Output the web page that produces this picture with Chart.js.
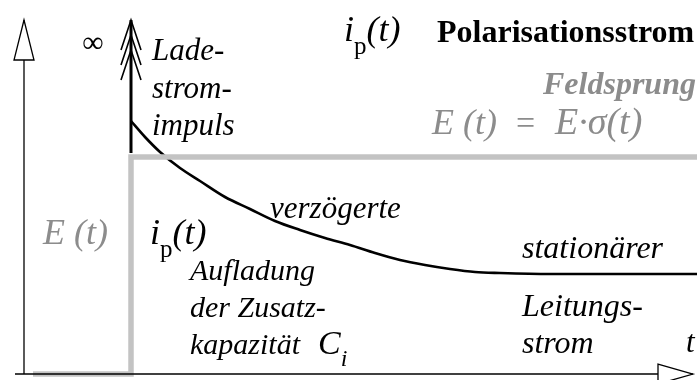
<!DOCTYPE html>
<html>
<head>
<meta charset="utf-8">
<script src="https://cdn.jsdelivr.net/npm/chart.js@4/dist/chart.umd.min.js"></script>
<style>
  html, body { margin: 0; padding: 0; background: #fff; }
  #wrap { width: 697px; height: 380px; position: relative; }
</style>
</head>
<body>
<div id="wrap"><canvas id="polChart"></canvas></div>
<script>
// Feldsprung E(t) = E·sigma(t), t = 0 at the step
const stepT = [-98, 0, 0, 566];
const stepE = [0, 0, 217, 217];

// Polarisationsstrom i_p(t) after the charging impulse
const currentT = [0, 14, 29, 49, 69, 94, 119, 144, 169, 194, 219, 244, 269, 294, 319, 344, 369, 419, 566];
const currentI = [253, 237, 222, 206, 193, 177, 165, 153, 144, 136, 129, 121, 114, 109, 105, 102, 101, 100, 100];

// Dirac impulse at t = 0 (drawn to "infinity")
const impulseT = [0, 0];
const impulseI = [221, 354];
const impulseTips = [354, 339, 324];

// coordinate axes
const axisYT = [-107, -107];
const axisYV = [0, 354];
const axisXT = [-116, 562];
const axisXV = [0, 0];

const pts = (xs, ys) => xs.map((x, i) => ({ x: x, y: ys[i] }));

const serif = "'Liberation Serif', 'Times New Roman', serif";
const GRAY = '#8c8c8c';
const it = size => 'italic ' + size + 'px ' + serif;

// text labels in data coordinates
const labels = [
  { t: -38, v: 322, text: '\u221E', font: '30px ' + serif, align: 'center' },
  { t: 21, v: 314, text: 'Lade-', font: it(31) },
  { t: 21, v: 276, text: 'strom-', font: it(31) },
  { t: 21, v: 239, text: 'impuls', font: it(31) },
  { t: 306, v: 332, text: 'Polarisationsstrom', font: 'bold 32px ' + serif },
  { t: 412, v: 280, text: 'Feldsprung', font: 'bold italic 32px ' + serif, color: GRAY },
  { t: 301, v: 240, text: 'E (t)', font: it(36), color: GRAY },
  { t: 385, v: 240, text: '=', font: '34px ' + serif, color: GRAY },
  { t: 424, v: 240, text: 'E\u00B7\u03C3(t)', font: it(38), color: GRAY },
  { t: -88, v: 130, text: 'E (t)', font: it(36), color: GRAY },
  { t: 139, v: 156, text: 'verzögerte', font: it(31) },
  { t: 59, v: 94, text: 'Aufladung', font: it(30) },
  { t: 59, v: 57, text: 'der Zusatz-', font: it(30) },
  { t: 59, v: 20, text: 'kapazität', font: it(30) },
  { t: 391, v: 116, text: 'stationärer', font: it(32) },
  { t: 391, v: 58, text: 'Leitungs-', font: it(32) },
  { t: 391, v: 21, text: 'strom', font: it(32) },
  { t: 555, v: 22, text: 't', font: it(31) }
];

// labels with a subscript: main part, subscript, rest
const subLabels = [
  { t: 213, v: 333, main: 'i', sub: 'p', rest: '(t)', size: 36 },
  { t: 19, v: 130, main: 'i', sub: 'p', rest: '(t)', size: 36 },
  { t: 187, v: 20, main: 'C', sub: 'i', rest: '', size: 34 }
];

const annotate = {
  id: 'annotate',
  afterDatasetsDraw(chart) {
    const ctx = chart.ctx;
    const xs = chart.scales.x, ys = chart.scales.y;
    ctx.save();

    // open arrow heads on the axes
    ctx.strokeStyle = '#000';
    ctx.lineWidth = 1.3;
    ctx.fillStyle = '#fff';
    let ax = xs.getPixelForValue(axisYT[1]), ay = ys.getPixelForValue(axisYV[1]);
    ctx.beginPath();
    ctx.moveTo(ax, ay);
    ctx.lineTo(ax - 10, ay + 40);
    ctx.lineTo(ax + 10, ay + 40);
    ctx.closePath();
    ctx.fill();
    ctx.stroke();
    ax = xs.getPixelForValue(axisXT[1]); ay = ys.getPixelForValue(axisXV[1]);
    ctx.beginPath();
    ctx.moveTo(ax, ay);
    ctx.lineTo(ax - 35, ay - 10);
    ctx.lineTo(ax - 35, ay + 10);
    ctx.closePath();
    ctx.fill();
    ctx.stroke();

    // stacked chevrons marking the infinite impulse
    const ix = xs.getPixelForValue(impulseT[0]);
    ctx.lineWidth = 1.6;
    impulseTips.forEach(v => {
      const iy = ys.getPixelForValue(v);
      ctx.beginPath();
      ctx.moveTo(ix - 10, iy + 30);
      ctx.lineTo(ix, iy);
      ctx.lineTo(ix + 10, iy + 30);
      ctx.stroke();
    });

    // text
    ctx.textBaseline = 'alphabetic';
    labels.forEach(l => {
      ctx.font = l.font;
      ctx.fillStyle = l.color || '#000';
      ctx.textAlign = l.align || 'left';
      ctx.fillText(l.text, xs.getPixelForValue(l.t), ys.getPixelForValue(l.v));
    });
    ctx.textAlign = 'left';
    ctx.fillStyle = '#000';
    subLabels.forEach(l => {
      let x = xs.getPixelForValue(l.t);
      const y = ys.getPixelForValue(l.v);
      ctx.font = it(l.size);
      ctx.fillText(l.main, x, y);
      x += ctx.measureText(l.main).width;
      const subSize = Math.round(l.size * 0.7);
      ctx.font = l.sub === 'p' ? subSize + 'px ' + serif : it(subSize);
      ctx.fillText(l.sub, x, y + l.size * 0.36);
      x += ctx.measureText(l.sub).width;
      if (l.rest) {
        ctx.font = it(l.size);
        ctx.fillText(l.rest, x, y);
      }
    });
    ctx.restore();
  }
};

const line = (data, color, width, extra) => Object.assign({
  data: data,
  showLine: true,
  borderColor: color,
  borderWidth: width,
  pointRadius: 0,
  fill: false,
  clip: false
}, extra || {});

new Chart(document.getElementById('polChart'), {
  type: 'scatter',
  data: {
    datasets: [
      line(pts(axisXT, axisXV), '#000', 1.3),
      line(pts(axisYT, axisYV), '#000', 1.3),
      line(pts(stepT, stepE), '#c3c3c3', 5.5),
      line(pts(impulseT, impulseI), '#000', 3),
      line(pts(currentT, currentI), '#000', 2.6, { cubicInterpolationMode: 'monotone' })
    ]
  },
  options: {
    responsive: true,
    maintainAspectRatio: false,
    animation: false,
    layout: { padding: 0 },
    plugins: { legend: { display: false }, tooltip: { enabled: false } },
    scales: {
      x: { type: 'linear', min: -131, max: 566, display: false },
      y: { type: 'linear', min: -6, max: 374, display: false }
    }
  },
  plugins: [annotate]
});
</script>
</body>
</html>
